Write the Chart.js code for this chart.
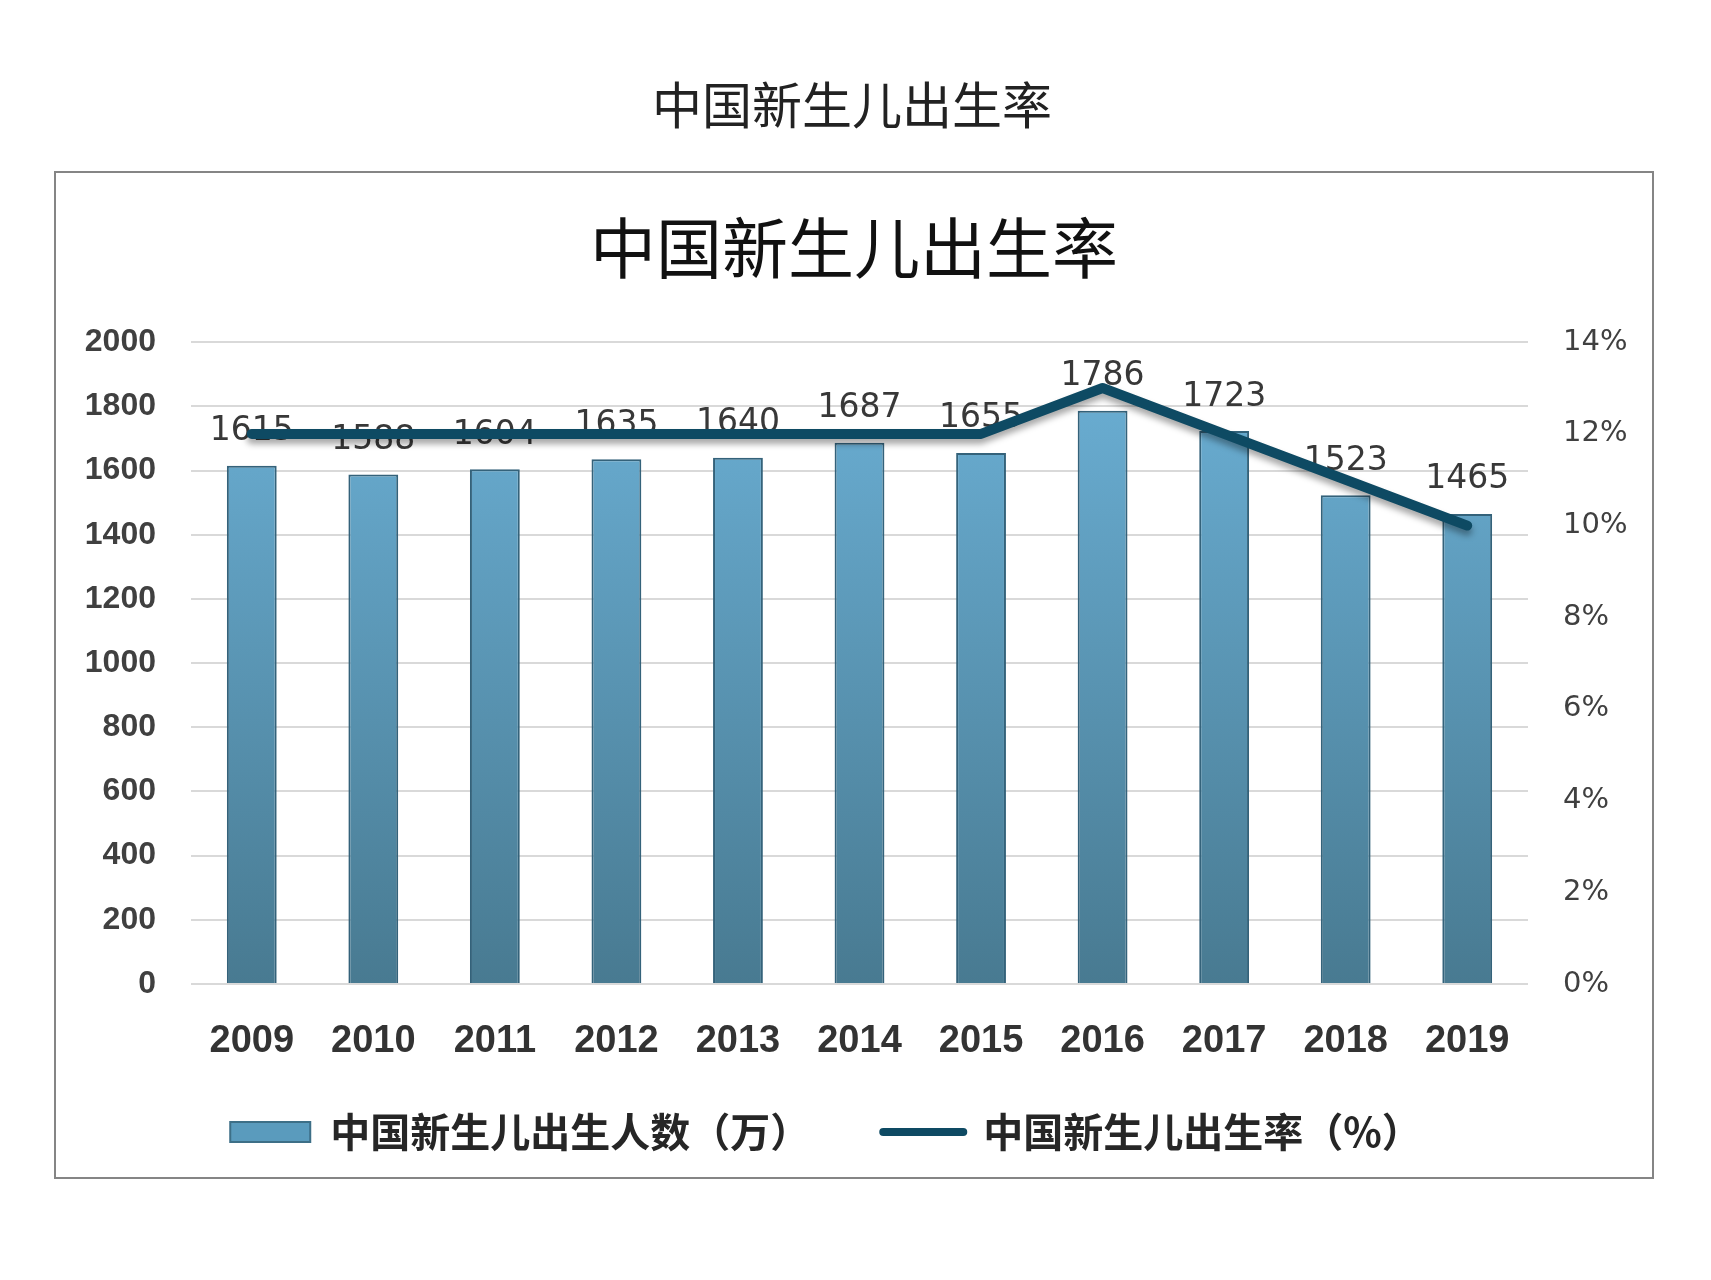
<!DOCTYPE html>
<html lang="zh-CN">
<head>
  <meta charset="utf-8">
  <title>中国新生儿出生率</title>
  <script src="https://cdn.jsdelivr.net/npm/chart.js@4.4.0/dist/chart.umd.min.js"></script>
  <style>
    body {
      margin: 0;
      background: #ffffff;
    }
    #titulo {
      position: absolute;
      left: 0;
      top: 71px;
      width: 1704px;
      line-height: 62px;
      text-align: center;
      font-family: "Noto Sans CJK SC", sans-serif;
      font-size: 50px;
      color: #222222;
    }
    #moldura {
      position: absolute;
      left: 54px;
      top: 171px;
      width: 1596px;
      height: 1004px;
      border: 2px solid #858585;
    }
    canvas {
      display: block;
    }
  </style>
</head>

<body>
  <div id="titulo">中国新生儿出生率</div>
  <div id="moldura">
    <canvas id="chart" width="1596" height="1004"></canvas>
  </div>
</body>

</html>
<script>
  var years = ['2009', '2010', '2011', '2012', '2013', '2014', '2015', '2016', '2017', '2018', '2019'];
  // births, in 万
  var births = [1615, 1588, 1604, 1635, 1640, 1687, 1655, 1786, 1723, 1523, 1465];
  // birth rate (%)
  var birthRate = [12, 12, 12, 12, 12, 12, 12, 13, 12, 11, 10];
  var seriesNames = ['中国新生儿出生人数（万）', '中国新生儿出生率（%）'];

  var cjk = '"Noto Sans CJK SC", sans-serif';

  // value labels above the bars, drawn before the line so the line runs over them
  var barLabels = {
    id: 'barLabels',
    afterDatasetDraw: function (chart, args) {
      if (args.index !== 0) return;
      var ctx = chart.ctx;
      ctx.save();
      ctx.font = '33px "DejaVu Sans"';
      ctx.fillStyle = '#383838';
      ctx.textAlign = 'center';
      ctx.textBaseline = 'middle';
      args.meta.data.forEach(function (bar, i) {
        ctx.fillText(String(births[i]), bar.x, bar.y - 34);
      });
      ctx.restore();
    }
  };

  // soft shadow under the rate line
  var lineShadow = {
    id: 'lineShadow',
    beforeDatasetDraw: function (chart, args) {
      if (args.index !== 1) return;
      var ctx = chart.ctx;
      ctx.save();
      ctx.shadowColor = 'rgba(0, 0, 0, 0.35)';
      ctx.shadowBlur = 6;
      ctx.shadowOffsetY = 5;
    },
    afterDatasetDraw: function (chart, args) {
      if (args.index !== 1) return;
      chart.ctx.restore();
    }
  };

  // the legend in the original sits a bit left of centre and close under the years
  var legendShift = {
    id: 'legendShift',
    afterLayout: function (chart) {
      chart.legend.left -= 28;
      chart.legend.right -= 28;
      chart.legend.top -= 15;
      chart.legend.bottom -= 15;
    }
  };

  var config = {
    type: 'bar',
    data: {
      labels: years,
      datasets: [{
        type: 'bar',
        label: seriesNames[0],
        data: births,
        yAxisID: 'y',
        order: 2,
        backgroundColor: function (context) {
          var area = context.chart.chartArea;
          if (!area) return '#5a9bbd';
          var g = context.chart.ctx.createLinearGradient(0, area.top, 0, area.bottom);
          g.addColorStop(0, '#6cb1d7');
          g.addColorStop(1, '#487a91');
          return g;
        },
        borderColor: '#34627a',
        borderWidth: 2,
        barPercentage: 0.41,
        categoryPercentage: 1
      }, {
        type: 'line',
        label: seriesNames[1],
        data: birthRate,
        yAxisID: 'y1',
        order: 1,
        borderColor: '#0e4a63',
        backgroundColor: '#0e4a63',
        borderWidth: 10,
        borderCapStyle: 'round',
        borderJoinStyle: 'round',
        pointRadius: 0,
        tension: 0
      }]
    },
    options: {
      responsive: false,
      animation: false,
      layout: {
        padding: { left: 0, right: 0, top: 0, bottom: 0 }
      },
      plugins: {
        title: {
          display: true,
          text: '中国新生儿出生率',
          color: '#111111',
          font: { family: cjk, size: 66, weight: 'normal' },
          padding: { top: 35, bottom: 55 }
        },
        legend: {
          position: 'bottom',
          labels: {
            usePointStyle: true,
            pointStyleWidth: 80,
            boxHeight: 20,
            padding: 73,
            color: '#262626',
            font: { family: cjk, size: 40, weight: 'bold' },
            generateLabels: function (chart) {
              var items = Chart.defaults.plugins.legend.labels.generateLabels(chart);
              items.forEach(function (it) {
                if (it.datasetIndex === 0) {
                  it.pointStyle = 'rect';
                  it.fillStyle = '#5a9bbd';
                  it.strokeStyle = '#3d6f87';
                  it.lineWidth = 2;
                } else {
                  it.pointStyle = 'line';
                  it.strokeStyle = '#0e4a63';
                  it.lineWidth = 8;
                  it.lineCap = 'round';
                }
              });
              return items.sort(function (a, b) { return a.datasetIndex - b.datasetIndex; });
            }
          }
        },
        tooltip: { enabled: false }
      },
      scales: {
        x: {
          grid: { display: false },
          border: { display: false },
          ticks: {
            color: '#333333',
            padding: 27,
            font: { family: '"Liberation Sans"', size: 38, weight: 'bold' }
          },
          afterFit: function (scale) { scale.height = 70; }
        },
        y: {
          position: 'left',
          min: 0,
          max: 2000,
          grid: { color: '#d9d9d9', lineWidth: 2, drawTicks: false },
          border: { display: false },
          ticks: {
            stepSize: 200,
            color: '#404040',
            padding: 35,
            font: { family: '"Liberation Sans"', size: 32, weight: 'bold' },
            callback: function (v) { return String(v); }
          },
          afterFit: function (scale) { scale.width = 135; }
        },
        y1: {
          position: 'right',
          min: 0,
          max: 14,
          grid: { display: false, drawTicks: false },
          border: { display: false },
          ticks: {
            stepSize: 2,
            color: '#404040',
            padding: 35,
            font: { family: '"DejaVu Sans"', size: 29 },
            callback: function (v) { return v + '%'; }
          },
          afterFit: function (scale) { scale.width = 124; }
        }
      }
    },
    plugins: [barLabels, lineShadow, legendShift]
  };

  window.onload = function () {
    var ctx = document.getElementById('chart').getContext('2d');
    window.myChart = new Chart(ctx, config);
  };
</script>
